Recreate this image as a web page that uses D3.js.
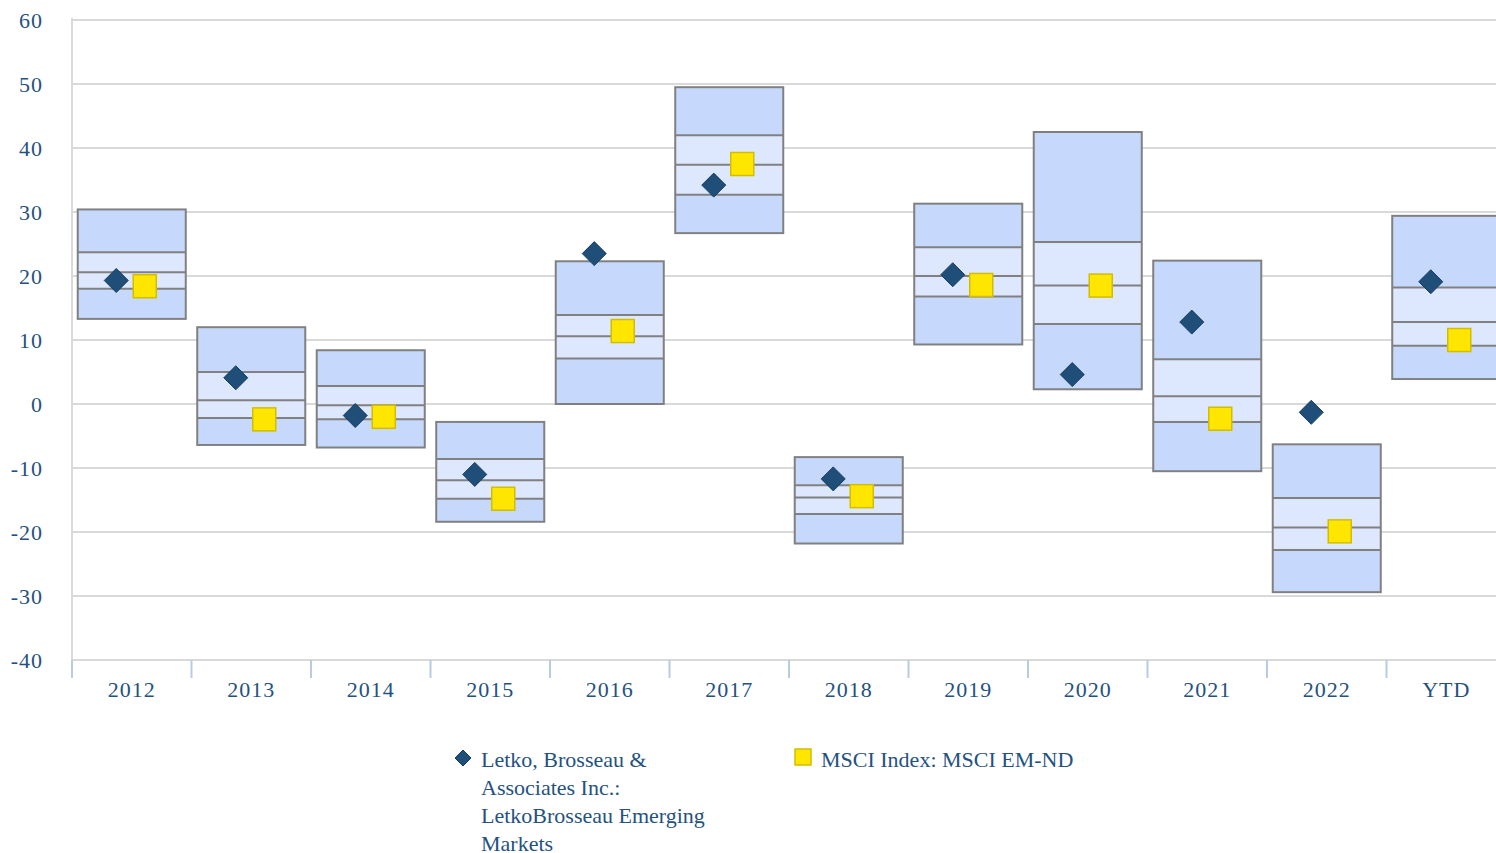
<!DOCTYPE html>
<html>
<head>
<meta charset="utf-8">
<script src="https://cdn.jsdelivr.net/npm/d3@7"></script>
<style>
  body { margin: 0; background: #fff; }
  svg { display: block; font-family: "Liberation Serif", "Times New Roman", serif; }
</style>
</head>
<body>
<svg id="chart" width="1496" height="853"></svg>
<script>
// ---- //
// Data //
// ---- //

const categories = ["2012", "2013", "2014", "2015", "2016", "2017", "2018", "2019", "2020", "2021", "2022", "YTD"];

// percentile boxes: 5th, 25th, median, 75th, 95th (top to bottom)
const p05 = [30.4, 12.0, 8.4, -2.8, 22.3, 49.5, -8.3, 31.3, 42.5, 22.4, -6.3, 29.4];
const p25 = [23.7, 5.0, 2.8, -8.6, 13.9, 42.0, -12.7, 24.5, 25.3, 7.0, -14.7, 18.2];
const p50 = [20.6, 0.6, -0.2, -11.9, 10.6, 37.4, -14.6, 20.0, 18.5, 1.2, -19.3, 12.8];
const p75 = [18.0, -2.2, -2.4, -14.8, 7.1, 32.7, -17.2, 16.8, 12.5, -2.8, -22.8, 9.1];
const p95 = [13.3, -6.4, -6.8, -18.4, 0.0, 26.7, -21.8, 9.3, 2.3, -10.5, -29.4, 3.9];

// series
const fundValues = [19.3, 4.1, -1.8, -11.0, 23.5, 34.2, -11.7, 20.2, 4.6, 12.8, -1.3, 19.1];
const indexValues = [18.4, -2.4, -2.0, -14.8, 11.4, 37.5, -14.4, 18.6, 18.5, -2.3, -19.9, 10.0];

const yTicks = [-40, -30, -20, -10, 0, 10, 20, 30, 40, 50, 60];

const fundName = ["Letko, Brosseau &", "Associates Inc.:", "LetkoBrosseau Emerging", "Markets"];
const indexName = "MSCI Index: MSCI EM-ND";

// ------ //
// Layout //
// ------ //

const textColor = "#24527f";
const outerFill = "#c6d9fd";
const innerFill = "#dde7fe";
const boxStroke = "#808080";
const gridColor = "#d9d9d9";

const svg = d3.select("#chart");

const x = d3.scaleBand().domain(categories).range([72, 1506]).padding(0);
const y = d3.scaleLinear().domain([-40, 60]).range([660, 20]);

const boxW = x.bandwidth() * 0.904;

// gridlines
svg.append("g")
  .selectAll("line")
  .data(yTicks)
  .join("line")
  .attr("x1", 72).attr("x2", 1506)
  .attr("y1", d => y(d)).attr("y2", d => y(d))
  .attr("stroke", gridColor)
  .attr("stroke-width", 2);

// y axis line
svg.append("line")
  .attr("x1", 72).attr("x2", 72)
  .attr("y1", y(60) - 2).attr("y2", y(-40))
  .attr("stroke", gridColor)
  .attr("stroke-width", 2);

// x tick marks at band boundaries
svg.append("g")
  .selectAll("line")
  .data(categories)
  .join("line")
  .attr("x1", d => x(d)).attr("x2", d => x(d))
  .attr("y1", y(-40)).attr("y2", y(-40) + 18)
  .attr("stroke", "#b8cbe2")
  .attr("stroke-width", 2);

// y labels
svg.append("g")
  .selectAll("text")
  .data(yTicks)
  .join("text")
  .attr("x", 43)
  .attr("y", d => y(d))
  .attr("dy", "0.35em")
  .attr("text-anchor", "end")
  .attr("fill", textColor)
  .style("font-size", "22px")
  .style("letter-spacing", "1px")
  .text(d => d);

// x labels
svg.append("g")
  .selectAll("text")
  .data(categories)
  .join("text")
  .attr("x", d => x(d) + x.bandwidth() / 2)
  .attr("y", 697)
  .attr("text-anchor", "middle")
  .attr("fill", textColor)
  .style("font-size", "22px")
  .style("letter-spacing", "1px")
  .text(d => d);

// boxes
const boxes = svg.append("g")
  .selectAll("g")
  .data(categories.map((c, i) => ({ c, q: [p05[i], p25[i], p50[i], p75[i], p95[i]] })))
  .join("g")
  .attr("transform", d => `translate(${x(d.c) + (x.bandwidth() - boxW) / 2},0)`);

// bands between consecutive percentiles
boxes.each(function (d) {
  const g = d3.select(this);
  for (let k = 0; k < 4; k++) {
    g.append("rect")
      .attr("x", 0)
      .attr("width", boxW)
      .attr("y", y(d.q[k]))
      .attr("height", y(d.q[k + 1]) - y(d.q[k]))
      .attr("fill", k === 1 || k === 2 ? innerFill : outerFill);
  }
  // inner lines
  g.selectAll("line.q")
    .data(d.q.slice(1, 4))
    .join("line")
    .attr("class", "q")
    .attr("x1", 0).attr("x2", boxW)
    .attr("y1", v => y(v)).attr("y2", v => y(v))
    .attr("stroke", boxStroke)
    .attr("stroke-width", 2);
  g.append("rect")
    .attr("x", 0)
    .attr("width", boxW)
    .attr("y", y(d.q[0]))
    .attr("height", y(d.q[4]) - y(d.q[0]))
    .attr("fill", "none")
    .attr("stroke", boxStroke)
    .attr("stroke-width", 2);
});

// index markers (squares)
const sq = 23;
svg.append("g")
  .selectAll("rect")
  .data(indexValues)
  .join("rect")
  .attr("x", (d, i) => x(categories[i]) + x.bandwidth() / 2 + 13 - sq / 2)
  .attr("y", d => y(d) - sq / 2)
  .attr("width", sq)
  .attr("height", sq)
  .attr("fill", "#ffe600")
  .attr("stroke", "#d2bd00")
  .attr("stroke-width", 1.5);

// fund markers (diamonds)
const diamond = r => `M0,${-r}L${r},0L0,${r}L${-r},0Z`;
svg.append("g")
  .selectAll("path")
  .data(fundValues)
  .join("path")
  .attr("transform", (d, i) => `translate(${x(categories[i]) + x.bandwidth() / 2 - 15.5},${y(d)})`)
  .attr("d", diamond(12))
  .attr("fill", "#1f4e79")
  .attr("stroke", "#173d60")
  .attr("stroke-width", 1);

// ------ //
// Legend //
// ------ //

const legend = svg.append("g");
legend.append("path")
  .attr("transform", "translate(463,758)")
  .attr("d", diamond(8))
  .attr("fill", "#1f4e79")
  .attr("stroke", "#173d60");
legend.append("text")
  .attr("x", 481)
  .attr("y", 767)
  .attr("fill", textColor)
  .style("font-size", "22px")
  .selectAll("tspan")
  .data(fundName)
  .join("tspan")
  .attr("x", 481)
  .attr("dy", (d, i) => (i === 0 ? 0 : 28))
  .text(d => d);

legend.append("rect")
  .attr("x", 795).attr("y", 749)
  .attr("width", 16).attr("height", 16)
  .attr("fill", "#ffe600")
  .attr("stroke", "#d2bd00")
  .attr("stroke-width", 1.5);
legend.append("text")
  .attr("x", 821)
  .attr("y", 767)
  .attr("fill", textColor)
  .style("font-size", "22px")
  .text(indexName);
</script>
</body>
</html>
